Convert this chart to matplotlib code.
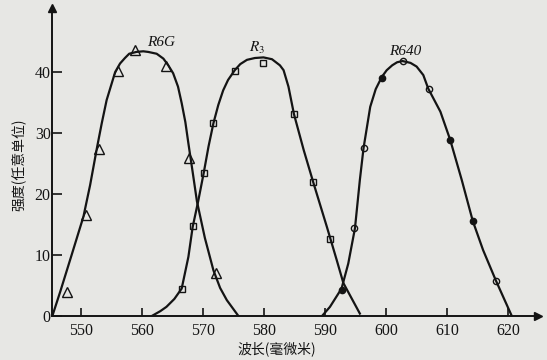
import matplotlib
matplotlib.use("Agg")
import matplotlib.pyplot as plt

# measured points (wavelength nm, intensity a.u.)
r6g_x = [547.7, 550.8, 552.9, 556.0, 558.9, 563.9, 567.7, 572.1]
r6g_y = [3.9, 16.6, 27.4, 40.2, 43.6, 41.0, 25.9, 7.0]

r3_x = [566.5, 568.3, 570.1, 571.6, 575.2, 579.8, 584.9, 588.1, 590.8]
r3_y = [4.5, 14.8, 23.4, 31.6, 40.2, 41.5, 33.1, 21.9, 12.6]

r640_open_x = [594.8, 596.3, 602.7, 607.0, 618.0]
r640_open_y = [14.4, 27.5, 41.8, 37.2, 5.7]
r640_fill_x = [592.7, 599.4, 610.4, 614.2]
r640_fill_y = [4.3, 39.1, 28.9, 15.6]

# hand-drawn fit curves
r6g_cx = [545.3, 546.6, 548.4, 550.4, 551.5, 552.6, 553.4, 554.2, 555.6, 556.4,
          557.2, 557.9, 559.1, 560.2, 561.0, 562.4, 563.5, 564.3, 565.1, 565.9,
          566.5, 567.1, 567.6, 568.3, 569.0, 570.3, 571.7, 572.8, 573.9, 575.8]
r6g_cy = [0, 4.0, 9.8, 16.3, 21.5, 27.5, 31.6, 35.4, 40.0, 41.4,
          42.3, 43.0, 43.3, 43.4, 43.3, 43.0, 42.2, 41.1, 39.8, 37.6,
          34.9, 31.8, 28.3, 23.6, 18.8, 12.8, 7.5, 4.6, 2.6, 0]

r3_cx = [561.6, 563.0, 564.0, 565.3, 566.5, 567.6, 568.3, 569.2, 570.1, 570.9,
         571.7, 572.5, 573.3, 574.1, 575.2, 576.1, 577.2, 578.5, 579.9, 581.3,
         582.6, 583.2, 584.0, 584.9, 586.5, 588.1, 590.3, 591.9, 593.0, 595.7]
r3_cy = [0, 0.8, 1.5, 2.8, 4.5, 9.7, 14.6, 18.8, 23.4, 27.8,
         31.6, 34.6, 37.0, 38.7, 40.3, 41.3, 42.0, 42.3, 42.4, 42.1,
         41.1, 40.3, 37.6, 33.1, 27.2, 21.8, 14.6, 9.2, 5.4, 0.4]

r640_cx = [589.5, 590.8, 592.7, 593.8, 594.9, 595.7, 596.3, 597.4, 598.3, 599.3,
           600.1, 601.0, 601.8, 602.7, 604.0, 605.0, 606.1, 606.9, 608.9, 610.5,
           612.4, 614.2, 615.9, 618.0, 620.6]
r640_cy = [0, 1.5, 4.5, 8.6, 14.4, 22.3, 27.5, 34.3, 37.2, 39.2,
           40.3, 41.1, 41.6, 41.8, 41.5, 40.9, 39.5, 37.3, 33.5, 28.9,
           22.3, 15.6, 10.8, 5.8, 0]

labels = ["R6G", "$R_3$", "R640"]
label_x = [563.1, 578.9, 603.1]
label_y = [44.8, 43.9, 43.4]

xticks = [550, 560, 570, 580, 590, 600, 610, 620]
yticks = [0, 10, 20, 30, 40]

paper = "#e7e7e4"
ink = "#141414"

plt.rcParams["mathtext.fontset"] = "stix"

fig = plt.figure(figsize=(5.47, 3.6), dpi=100, facecolor=paper)
ax = fig.add_axes([0.0951, 0.1222, 0.8885, 0.8556])
ax.set_facecolor(paper)

for cx, cy in [(r6g_cx, r6g_cy), (r3_cx, r3_cy), (r640_cx, r640_cy)]:
    ax.plot(cx, cy, color=ink, lw=1.6, solid_joinstyle="round")

ax.plot(r6g_x, r6g_y, "^", ms=7, mfc="none", mec=ink, mew=1.0)
ax.plot(r3_x, r3_y, "s", ms=5, mfc="none", mec=ink, mew=1.0)
ax.plot(r640_open_x, r640_open_y, "o", ms=4.5, mfc="none", mec=ink, mew=1.0)
ax.plot(r640_fill_x, r640_fill_y, "o", ms=4.5, mfc=ink, mec=ink, mew=1.0)

for t, x, y in zip(labels, label_x, label_y):
    ax.text(x, y, t, ha="center", va="center", fontsize=11,
            family="Liberation Serif", style="italic", color=ink)

ax.set_xlim(545.25, 624.9)
ax.set_ylim(0, 50.5)
ax.set_xticks(xticks)
ax.set_yticks(yticks)
ax.tick_params(axis="x", direction="in", length=6, width=1.2, pad=5, colors=ink)
ax.tick_params(axis="y", direction="in", length=7, width=1.2, pad=1, colors=ink)
for lab in ax.get_xticklabels() + ax.get_yticklabels():
    lab.set_family("Liberation Serif")
    lab.set_fontsize(11.5)

for s in ["top", "right"]:
    ax.spines[s].set_visible(False)
for s in ["left", "bottom"]:
    ax.spines[s].set_linewidth(1.4)
    ax.spines[s].set_color(ink)

# axis arrows
ax.plot(1, 0, ">", color=ink, ms=6, transform=ax.transAxes, clip_on=False)
ax.plot(0, 1, "^", color=ink, ms=6, transform=ax.transAxes, clip_on=False)

cjk = ["Noto Sans CJK SC", "DejaVu Sans"]
fig.text(277 / 547, 1 - 349 / 360, "波长(毫微米)", ha="center", va="center",
         fontsize=10, family=cjk, color=ink)
fig.text(18 / 547, 1 - 165 / 360, "强度(任意单位)", ha="center", va="center",
         rotation=90, fontsize=10, family=cjk, color=ink)

fig.savefig("out.png", dpi=100, facecolor=paper)
